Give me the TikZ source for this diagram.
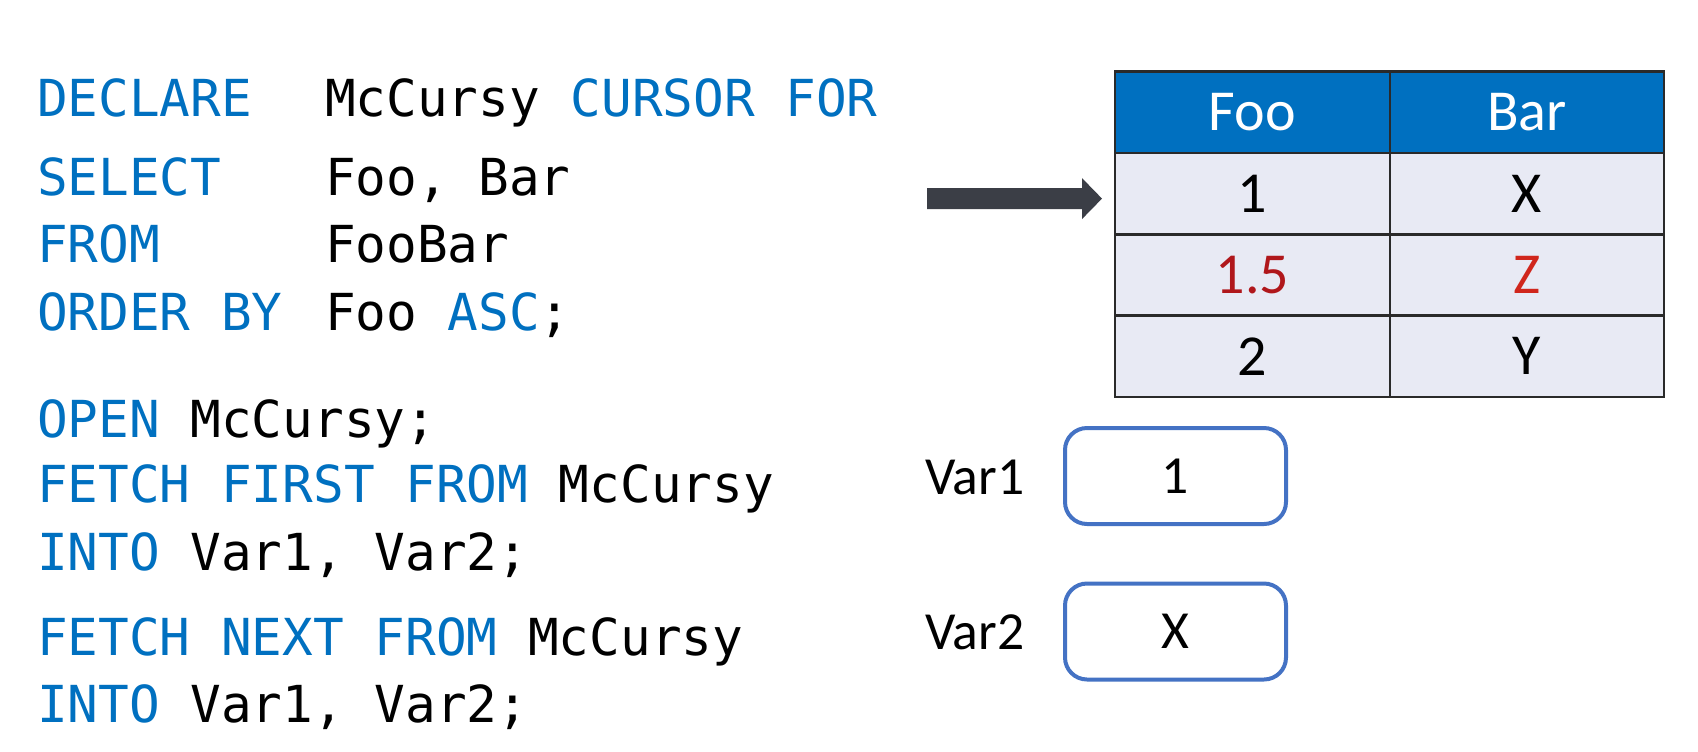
\documentclass[tikz,border=0pt]{standalone}
\usepackage{fontspec}
\setmainfont{Carlito}
\setmonofont{DejaVu Sans Mono}
\usetikzlibrary{arrows.meta}
\definecolor{kwc}{HTML}{0070C0}
\definecolor{hdr}{HTML}{0070C0}
\definecolor{cellbg}{HTML}{E8EAF4}
\definecolor{gridc}{HTML}{2A2A2A}
\definecolor{redA}{HTML}{B0171B}
\definecolor{redB}{HTML}{D0261C}
\definecolor{arrowc}{HTML}{3B3E46}
\definecolor{boxc}{HTML}{4472C4}
\newcommand\kwd[1]{\textcolor{kwc}{#1}}
\begin{document}
\begin{tikzpicture}[x=0.5pt,y=-0.5pt,
  code/.style={anchor=base west, inner sep=0pt, outer sep=0pt, font=\fontsize{25.5pt}{30pt}\selectfont\ttfamily},
  cell/.style={draw=gridc, line width=1.2pt, fill=cellbg, minimum height=40.7pt, inner sep=0pt, outer sep=0pt, font=\fontsize{29pt}{34pt}\selectfont},
  hcell/.style={cell, fill=hdr, text=white},
  colA/.style={minimum width=137.5pt},
  colB/.style={minimum width=137pt},
  varlbl/.style={anchor=base west, inner sep=0pt, font=\fontsize{26.8pt}{32pt}\selectfont},
  varbox/.style={draw=boxc, line width=2pt, rounded corners=11pt, minimum width=110.5pt, minimum height=48pt, inner sep=0pt, font=\fontsize{26.8pt}{32pt}\selectfont},
  bigarrow/.style={draw=arrowc, line width=10.5pt, -{Triangle[length=10pt,width=20.5pt,line width=0pt,fill=arrowc]}}
]
\useasboundingbox (0,0) rectangle (1698,751);
\fill[white] (0,0) rectangle (1698,751);

% code
\node[code] (l1a) at (37,116) {\kwd{DECLARE}};
\node[code] (l1b) at (325,116) {McCursy \kwd{CURSOR FOR}};
\node[code] (l2a) at (37,195) {\kwd{SELECT}};
\node[code] (l2b) at (325,195) {Foo, Bar};
\node[code] (l3a) at (37,262) {\kwd{FROM}};
\node[code] (l3b) at (325,262) {FooBar};
\node[code] (l4a) at (37,330) {\kwd{ORDER BY}};
\node[code] (l4b) at (325,330) {Foo \kwd{ASC};};
\node[code] (l5) at (37,437) {\kwd{OPEN} McCursy;};
\node[code] (l6) at (37,502) {\kwd{FETCH FIRST FROM} McCursy};
\node[code] (l7) at (37,570) {\kwd{INTO} Var1, Var2;};
\node[code] (l8) at (37,655) {\kwd{FETCH NEXT FROM} McCursy};
\node[code] (l9) at (37,722) {\kwd{INTO} Var1, Var2;};

% table
\node[hcell, colA] (h1) at (1252.5,112.2) {Foo};
\node[hcell, colB] (h2) at (1527,112.2) {Bar};
\node[cell, colA] (c11) at (1252.5,193.6) {1};
\node[cell, colB] (c12) at (1527,193.6) {X};
\node[cell, colA, text=redA] (c21) at (1252.5,275) {1.5};
\node[cell, colB, text=redB] (c22) at (1527,275) {Z};
\node[cell, colA] (c31) at (1252.5,356.3) {2};
\node[cell, colB] (c32) at (1527,356.3) {Y};

% arrow
\coordinate (arrS) at (927,198.5);
\draw[bigarrow] (arrS) -- ([xshift=-6.5pt,yshift=-2.5pt]c11.west);

% variables
\node[varlbl] (v1l) at (925,494) {Var1};
\node[varbox] (v1) at (1175.5,476) {1};
\node[varlbl] (v2l) at (925,649) {Var2};
\node[varbox] (v2) at (1175.5,631.5) {X};
\end{tikzpicture}
\end{document}
